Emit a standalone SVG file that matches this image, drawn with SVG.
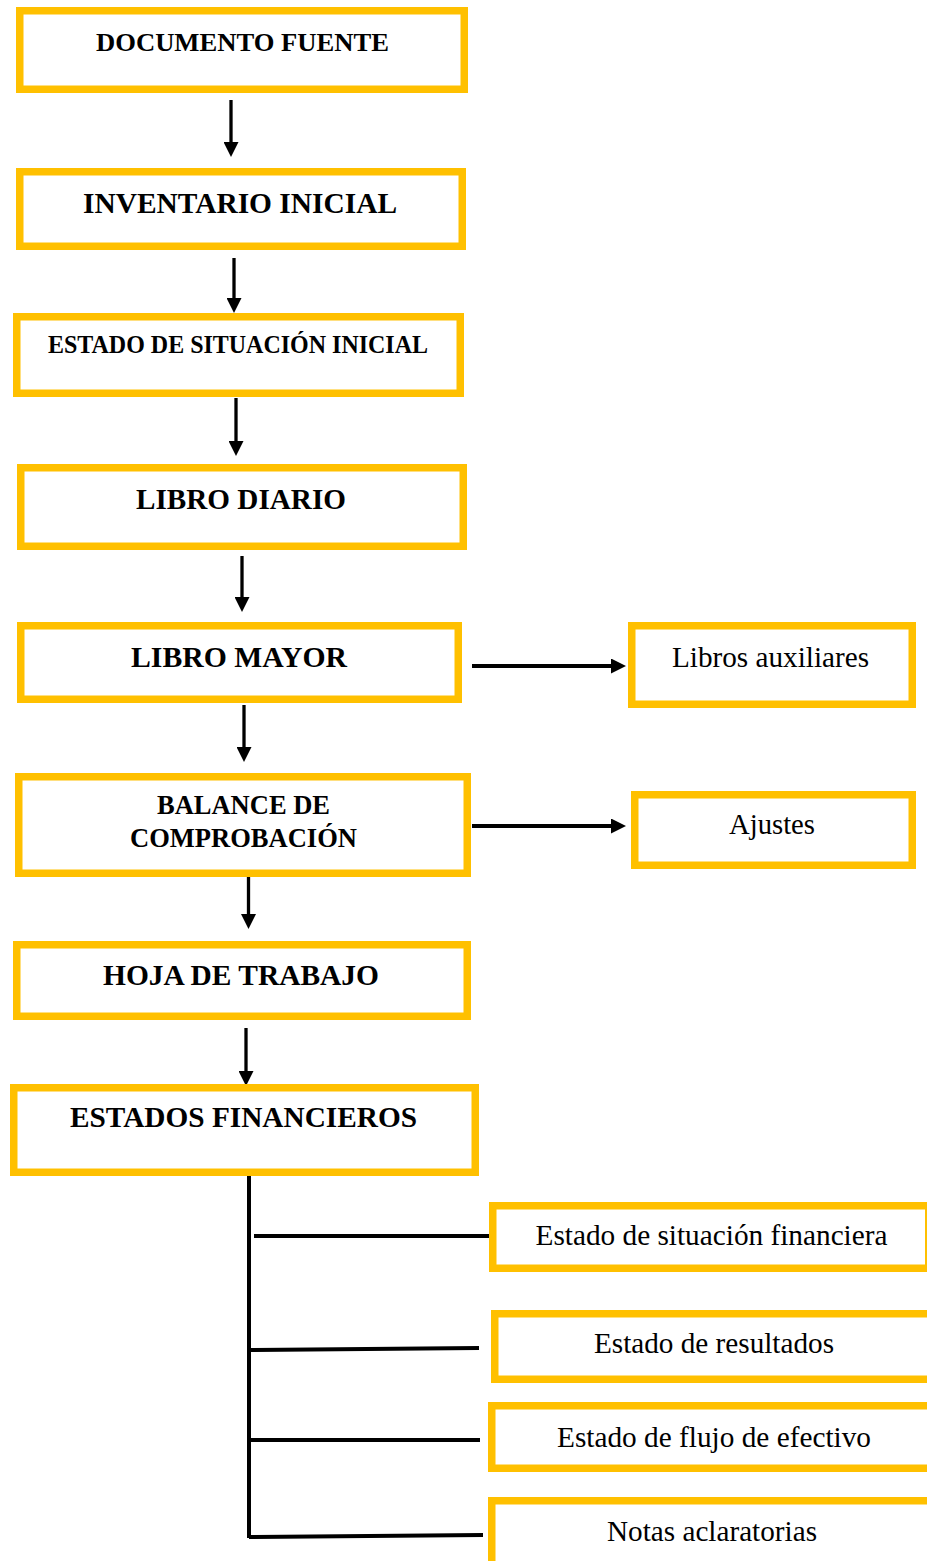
<svg xmlns="http://www.w3.org/2000/svg" width="927" height="1561" viewBox="0 0 927 1561">
<defs>
<style>
.box{fill:#FFFFFF;stroke:#FFC000;stroke-width:7.5}
.tb{font-family:"Liberation Serif","Times New Roman",serif;font-weight:bold;fill:#000;text-anchor:middle}
.tr{font-family:"Liberation Serif","Times New Roman",serif;font-weight:normal;fill:#000;text-anchor:middle;font-size:29px}
.arr{stroke:#000;stroke-width:3.3;fill:none;marker-end:url(#ah)}
.arrh{stroke:#000;stroke-width:4;fill:none;marker-end:url(#ah)}
.br{stroke:#000;stroke-width:4;fill:none}
</style>
<marker id="ah" markerUnits="userSpaceOnUse" viewBox="0 0 15 15" markerWidth="15" markerHeight="15" refX="1" refY="7.5" orient="auto">
<path d="M0,0 L15,7.5 L0,15 z" fill="#000"/>
</marker>
</defs>
<rect width="927" height="1561" fill="#FFFFFF"/>

<g id="connectors">
<path class="arr" d="M231,100 V143"/>
<path class="arr" d="M234,258 V299"/>
<path class="arr" d="M236,398 V442"/>
<path class="arr" d="M242,556 V598"/>
<path class="arr" d="M244,705 V748"/>
<path class="arr" d="M248.5,873 V915"/>
<path class="arr" d="M246,1028 V1072"/>
<path class="arrh" d="M472,666 H612"/>
<path class="arrh" d="M472,826 H612"/>
<path class="br" d="M249,1176 V1538"/>
<path class="br" d="M254,1236 H490"/>
<path class="br" d="M247,1350 L479,1348"/>
<path class="br" d="M249,1440 H480"/>
<path class="br" d="M249,1537 L483,1535"/>
</g>

<g id="documento-fuente">
<rect class="box" x="19.75" y="10.75" width="444.5" height="78.5"/>
<text class="tb" x="242.5" y="50.5" font-size="26" textLength="293" lengthAdjust="spacingAndGlyphs">DOCUMENTO FUENTE</text>
</g>
<g id="inventario-inicial">
<rect class="box" x="19.75" y="171.75" width="442.5" height="74.5"/>
<text class="tb" x="240" y="213" font-size="29.5" textLength="314" lengthAdjust="spacingAndGlyphs">INVENTARIO INICIAL</text>
</g>
<g id="estado-situacion-inicial">
<rect class="box" x="16.75" y="316.75" width="443.5" height="76.5"/>
<text class="tb" x="238" y="353" font-size="26" textLength="380" lengthAdjust="spacingAndGlyphs">ESTADO DE SITUACIÓN INICIAL</text>
</g>
<g id="libro-diario">
<rect class="box" x="20.75" y="467.75" width="442.5" height="78.5"/>
<text class="tb" x="241" y="509" font-size="29" textLength="210" lengthAdjust="spacingAndGlyphs">LIBRO DIARIO</text>
</g>
<g id="libro-mayor">
<rect class="box" x="20.75" y="625.75" width="437.5" height="73.5"/>
<text class="tb" x="239" y="667" font-size="29" textLength="216" lengthAdjust="spacingAndGlyphs">LIBRO MAYOR</text>
</g>
<g id="libros-auxiliares">
<rect class="box" x="631.75" y="625.75" width="280.5" height="78.5"/>
<text class="tr" x="770.5" y="667" textLength="197" lengthAdjust="spacingAndGlyphs">Libros auxiliares</text>
</g>
<g id="balance-comprobacion">
<rect class="box" x="18.75" y="776.75" width="448.5" height="96.5"/>
<text class="tb" x="243.5" y="814" font-size="26.5" textLength="173" lengthAdjust="spacingAndGlyphs">BALANCE DE</text>
<text class="tb" x="243.5" y="847" font-size="26.5" textLength="227" lengthAdjust="spacingAndGlyphs">COMPROBACIÓN</text>
</g>
<g id="ajustes">
<rect class="box" x="634.75" y="794.75" width="277.5" height="70.5"/>
<text class="tr" x="772" y="834" textLength="86" lengthAdjust="spacingAndGlyphs">Ajustes</text>
</g>
<g id="hoja-trabajo">
<rect class="box" x="16.75" y="944.75" width="450.5" height="71.5"/>
<text class="tb" x="241" y="985" font-size="29" textLength="276" lengthAdjust="spacingAndGlyphs">HOJA DE TRABAJO</text>
</g>
<g id="estados-financieros">
<rect class="box" x="13.75" y="1087.75" width="461.5" height="84.5"/>
<text class="tb" x="243.5" y="1127" font-size="29" textLength="347" lengthAdjust="spacingAndGlyphs">ESTADOS FINANCIEROS</text>
</g>
<g id="estado-situacion-financiera">
<rect class="box" x="492.75" y="1205.75" width="436" height="62.5"/>
<text class="tr" x="711.5" y="1245" textLength="352" lengthAdjust="spacingAndGlyphs">Estado de situación financiera</text>
</g>
<g id="estado-resultados">
<rect class="box" x="494.75" y="1313.75" width="450" height="65.5"/>
<text class="tr" x="714" y="1353" textLength="240" lengthAdjust="spacingAndGlyphs">Estado de resultados</text>
</g>
<g id="estado-flujo-efectivo">
<rect class="box" x="491.75" y="1405.75" width="450" height="62.5"/>
<text class="tr" x="714" y="1447" textLength="314" lengthAdjust="spacingAndGlyphs">Estado de flujo de efectivo</text>
</g>
<g id="notas-aclaratorias">
<rect class="box" x="491.75" y="1500.75" width="450" height="80"/>
<text class="tr" x="712" y="1541" textLength="210" lengthAdjust="spacingAndGlyphs">Notas aclaratorias</text>
</g>
</svg>
